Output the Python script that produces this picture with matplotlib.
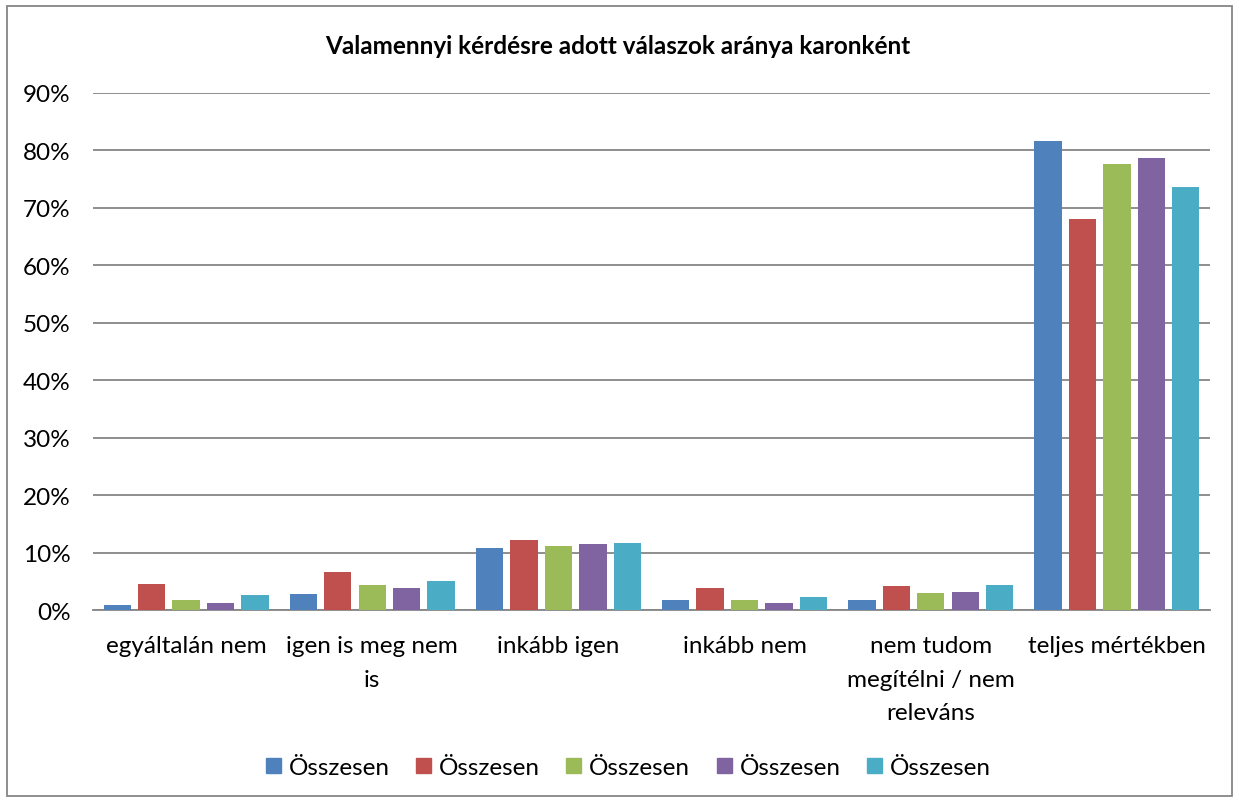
import numpy as np
import matplotlib
matplotlib.use('Agg')
import matplotlib.pyplot as plt
import matplotlib.ticker as mtick
from matplotlib.patches import Rectangle
from matplotlib.lines import Line2D

plt.rcParams['font.family'] = ['Lato', 'DejaVu Sans']

# ── data ──────────────────────────────────────────────────────────────────────
categories = ['egyáltalán nem', 'igen is meg nem\nis', 'inkább igen',
              'inkább nem', 'nem tudom\nmegítélni / nem\nreleváns', 'teljes mértékben']
series_names = ['Összesen', 'Összesen', 'Összesen', 'Összesen', 'Összesen']
s1 = [0.95, 2.75, 10.8, 1.7, 1.75, 81.6]
s2 = [4.6, 6.7, 12.2, 3.8, 4.2, 68.0]
s3 = [1.7, 4.3, 11.1, 1.7, 3.0, 77.6]
s4 = [1.2, 3.75, 11.5, 1.3, 3.1, 78.7]
s5 = [2.6, 5.0, 11.6, 2.3, 4.3, 73.6]
series = [s1, s2, s3, s4, s5]
colors = ['#4F81BD', '#C0504D', '#9BBB59', '#8064A2', '#4BACC6']
title = 'Valamennyi kérdésre adott válaszok aránya karonként'

GRID = '#868686'
FS = 17.5

# ── plot ──────────────────────────────────────────────────────────────────────
fig = plt.figure(figsize=(12.39, 8.03), dpi=100)
fig.patches.append(Rectangle((0.006, 0.008), 0.988, 0.983, transform=fig.transFigure,
                             fill=False, edgecolor=GRID, linewidth=1.3))

ax = fig.add_axes([93 / 1239, 1 - 611 / 803, 1117 / 1239, 517 / 803])

x = np.arange(len(categories))
pitch = 0.185
width = 0.147
for i, (vals, c) in enumerate(zip(series, colors)):
    offs = (i - 2) * pitch
    ax.bar(x + offs, np.array(vals) / 100, width=width, color=c, zorder=3)

ax.set_xlim(-0.5, len(categories) - 0.5)
ax.set_ylim(0, 0.9)
ax.yaxis.set_major_locator(mtick.MultipleLocator(0.1))
ax.yaxis.set_major_formatter(mtick.PercentFormatter(1.0, decimals=0))
ax.grid(True, axis='y', color=GRID, linewidth=1.3, zorder=0)
ax.set_axisbelow(True)

for s in ['top', 'right', 'left']:
    ax.spines[s].set_visible(False)
ax.spines['bottom'].set_color(GRID)
ax.spines['bottom'].set_linewidth(1.3)

ax.set_xticks(x)
ax.set_xticklabels(categories, fontsize=FS, linespacing=1.74)
ax.tick_params(axis='x', length=0, pad=18)
ax.tick_params(axis='y', length=0, pad=16, labelsize=FS)

fig.text(618 / 1239, 1 - 46 / 803, title, ha='center', va='center',
         fontsize=17.5, fontweight='bold')

handles = [Line2D([], [], marker='s', linestyle='none', markersize=10.8,
                  markerfacecolor=c, markeredgecolor=c) for c in colors]
fig.legend(handles, series_names, loc='center',
           bbox_to_anchor=(0.5 + 8 / 1239, 1 - 768 / 803),
           ncol=5, frameon=False, fontsize=FS, handletextpad=0.3,
           columnspacing=1.03, handlelength=0.7)

fig.savefig('out.png', dpi=100)
